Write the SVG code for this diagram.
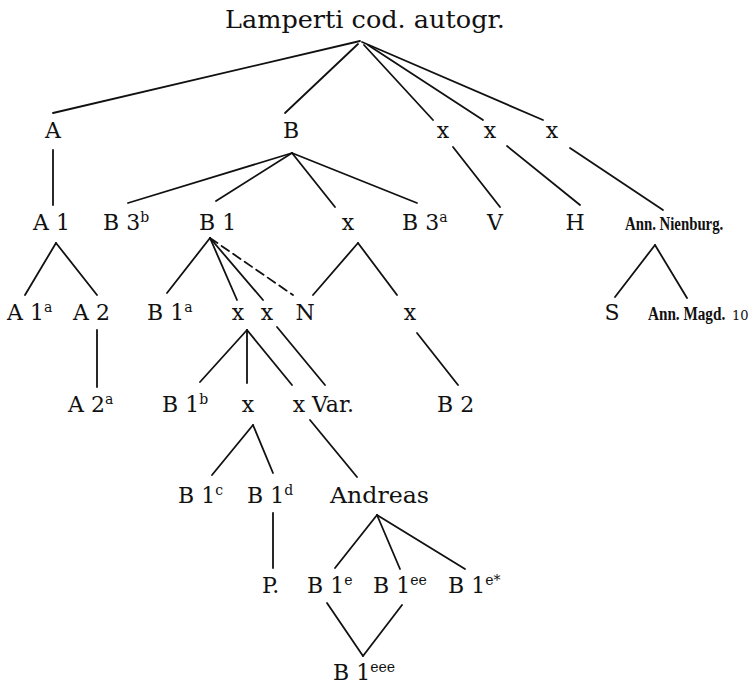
<svg xmlns="http://www.w3.org/2000/svg" width="752" height="686" viewBox="0 0 752 686">
<style>
.t{font-family:"DejaVu Serif","Liberation Serif",serif;font-size:22px;fill:#111}
.title{font-family:"DejaVu Serif","Liberation Serif",serif;font-size:24px;fill:#111}
.s{font-size:14px}
.c{font-family:"Liberation Serif","DejaVu Serif",serif;font-weight:bold;font-size:19px;fill:#111}
.n{font-family:"DejaVu Serif","Liberation Serif",serif;font-size:13px;fill:#111}
.m{text-anchor:middle}
#connectors line{stroke:#111;stroke-width:1.8;stroke-linecap:round}
.dash{stroke-dasharray:9 5}
</style>
<rect width="752" height="686" fill="#fff"/>
<g id="connectors">
<line x1="360" y1="41" x2="53" y2="113"/>
<line x1="358" y1="44" x2="285" y2="113"/>
<line x1="364" y1="45" x2="433" y2="120"/>
<line x1="368" y1="45" x2="483" y2="120"/>
<line x1="362" y1="42" x2="543" y2="120"/>
<line x1="53" y1="150" x2="53" y2="205"/>
<line x1="292" y1="153" x2="128" y2="203"/>
<line x1="292" y1="153" x2="216" y2="201"/>
<line x1="292" y1="153" x2="335" y2="207"/>
<line x1="292" y1="153" x2="417" y2="203"/>
<line x1="453" y1="147" x2="500" y2="207"/>
<line x1="507" y1="146" x2="580" y2="205"/>
<line x1="570" y1="148" x2="663" y2="210"/>
<line x1="56" y1="243" x2="25" y2="295"/>
<line x1="56" y1="243" x2="97" y2="295"/>
<line x1="210" y1="238" x2="167" y2="293"/>
<line x1="210" y1="238" x2="237" y2="300"/>
<line x1="210" y1="238" x2="263" y2="300"/>
<line class="dash" x1="210" y1="238" x2="293" y2="295"/>
<line x1="358" y1="243" x2="313" y2="295"/>
<line x1="358" y1="243" x2="397" y2="295"/>
<line x1="655" y1="245" x2="615" y2="297"/>
<line x1="655" y1="245" x2="687" y2="298"/>
<line x1="97" y1="330" x2="97" y2="387"/>
<line x1="247" y1="330" x2="200" y2="382"/>
<line x1="247" y1="330" x2="247" y2="383"/>
<line x1="247" y1="330" x2="292" y2="385"/>
<line x1="277" y1="327" x2="325" y2="385"/>
<line x1="417" y1="333" x2="458" y2="385"/>
<line x1="253" y1="425" x2="212" y2="475"/>
<line x1="253" y1="425" x2="273" y2="473"/>
<line x1="310" y1="420" x2="357" y2="477"/>
<line x1="273" y1="513" x2="273" y2="568"/>
<line x1="377" y1="515" x2="335" y2="568"/>
<line x1="377" y1="515" x2="400" y2="569"/>
<line x1="377" y1="515" x2="465" y2="569"/>
<line x1="327" y1="603" x2="363" y2="656"/>
<line x1="402" y1="605" x2="363" y2="656"/>
</g>
<g id="root"><text class="title" x="225" y="28" textLength="280" lengthAdjust="spacingAndGlyphs">Lamperti cod. autogr.</text></g>
<g id="A"><text class="t m" x="53" y="138">A</text></g>
<g id="B"><text class="t m" x="291" y="138">B</text></g>
<g id="x1"><text class="t m" x="443" y="138">x</text></g>
<g id="x2"><text class="t m" x="490" y="138">x</text></g>
<g id="x3"><text class="t m" x="552" y="138">x</text></g>
<g id="A1"><text class="t" x="33" y="230">A 1</text></g>
<g id="B3b"><text class="t" x="103" y="230">B 3<tspan class="s" dy="-8">b</tspan></text></g>
<g id="B1"><text class="t" x="199" y="230">B 1</text></g>
<g id="x4"><text class="t m" x="348" y="230">x</text></g>
<g id="B3a"><text class="t" x="402" y="230">B 3<tspan class="s" dy="-8">a</tspan></text></g>
<g id="V"><text class="t m" x="495" y="230">V</text></g>
<g id="H"><text class="t m" x="575" y="230">H</text></g>
<g id="AnnNienburg"><text class="c" transform="translate(625,230) scale(0.78,1)">Ann. Nienburg.</text></g>
<g id="A1a"><text class="t" x="7" y="320">A 1<tspan class="s" dy="-8">a</tspan></text></g>
<g id="A2"><text class="t" x="73" y="320">A 2</text></g>
<g id="B1a"><text class="t" x="147" y="320">B 1<tspan class="s" dy="-8">a</tspan></text></g>
<g id="x5"><text class="t m" x="238" y="320">x</text></g>
<g id="x6"><text class="t m" x="267" y="320">x</text></g>
<g id="N"><text class="t m" x="305" y="320">N</text></g>
<g id="x7"><text class="t m" x="410" y="320">x</text></g>
<g id="S"><text class="t m" x="612" y="320">S</text></g>
<g id="AnnMagd"><text class="c" transform="translate(648,320) scale(0.8,1)">Ann. Magd.</text><text class="n" x="732" y="320">10</text></g>
<g id="A2a"><text class="t" x="68" y="412">A 2<tspan class="s" dy="-8">a</tspan></text></g>
<g id="B1b"><text class="t" x="162" y="412">B 1<tspan class="s" dy="-8">b</tspan></text></g>
<g id="x8"><text class="t m" x="248" y="412">x</text></g>
<g id="x9"><text class="t m" x="299" y="412">x</text></g>
<g id="Var"><text class="t" x="312" y="412">Var.</text></g>
<g id="B2"><text class="t" x="437" y="412">B 2</text></g>
<g id="B1c"><text class="t" x="178" y="503">B 1<tspan class="s" dy="-8">c</tspan></text></g>
<g id="B1d"><text class="t" x="247" y="503">B 1<tspan class="s" dy="-8">d</tspan></text></g>
<g id="Andreas"><text class="t" x="330" y="503" textLength="99" lengthAdjust="spacingAndGlyphs">Andreas</text></g>
<g id="P"><text class="t" x="262" y="593">P.</text></g>
<g id="B1e"><text class="t" x="307" y="593">B 1<tspan class="s" dy="-8">e</tspan></text></g>
<g id="B1ee"><text class="t" x="373" y="593">B 1<tspan class="s" dy="-8">ee</tspan></text></g>
<g id="B1estar"><text class="t" x="448" y="593">B 1<tspan class="s" dy="-8">e*</tspan></text></g>
<g id="B1eee"><text class="t" x="333" y="680">B 1<tspan class="s" dy="-8">eee</tspan></text></g>
</svg>
